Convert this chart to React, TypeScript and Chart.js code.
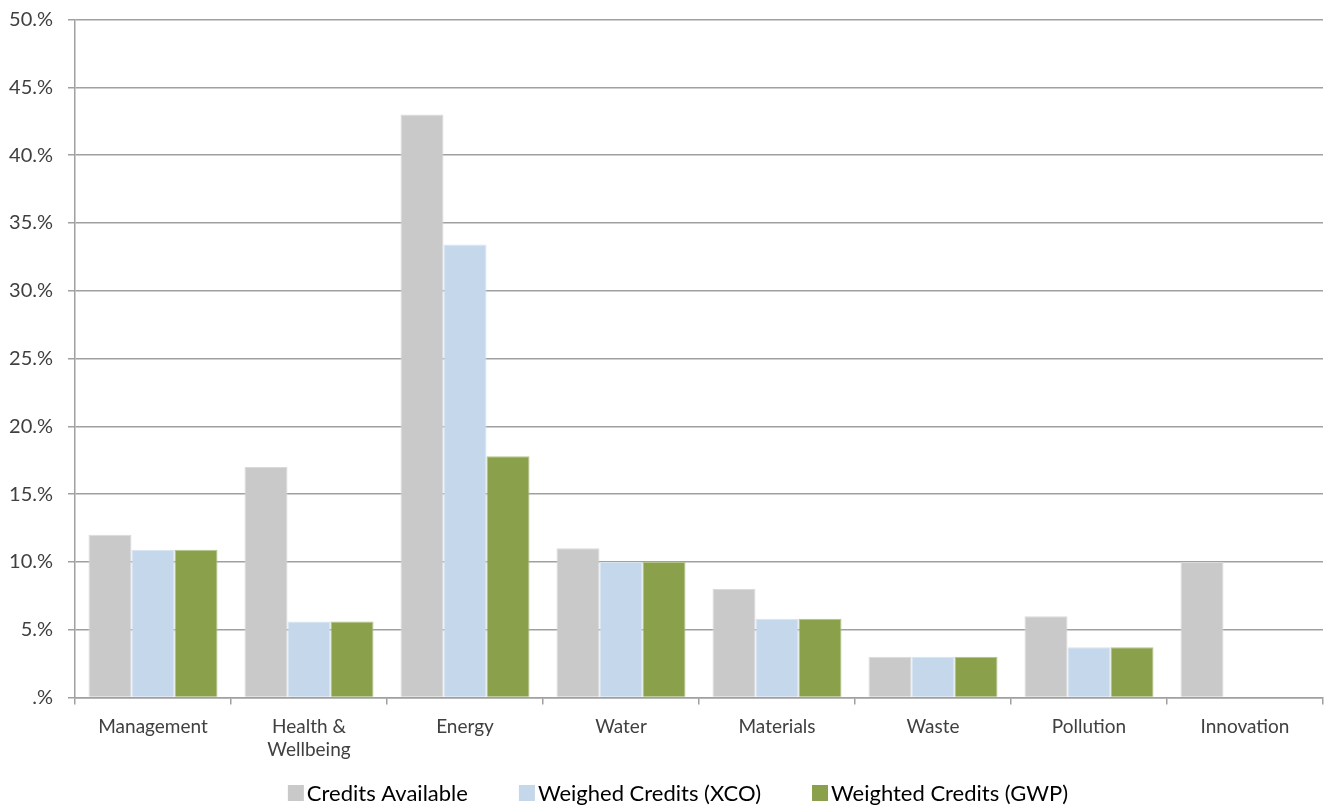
import React, { useEffect, useRef } from "react";
import { Chart, registerables } from "chart.js";

Chart.register(...registerables);

const categories: (string | string[])[] = [
  "Management",
  ["Health &", "Wellbeing"],
  "Energy",
  "Water",
  "Materials",
  "Waste",
  "Pollution",
  "Innovation",
];

const creditsAvailable: (number | null)[] = [12, 17, 43, 11, 8, 3, 6, 10];
const weighedXCO: (number | null)[] = [10.9, 5.6, 33.4, 10, 5.8, 3, 3.7, null];
const weightedGWP: (number | null)[] = [10.9, 5.6, 17.8, 10, 5.8, 3, 3.7, null];

const seriesNames = [
  "Credits Available",
  "Weighed Credits (XCO)",
  "Weighted Credits (GWP)",
];

const FONT = "Lato, 'Open Sans', 'DejaVu Sans', sans-serif";

// Legend row drawn under the axis: square swatch, tight text, wide gaps.
const bottomLegend = {
  id: "bottomLegend",
  afterDraw(chart: any) {
    const ctx = chart.ctx as CanvasRenderingContext2D;
    const box = 16;
    const textGap = 3;
    const itemGap = 51;
    const baseline = 801;
    ctx.save();
    ctx.font = `22px ${FONT}`;
    ctx.textBaseline = "alphabetic";
    ctx.textAlign = "left";
    const items = chart.data.datasets.map((ds: any) => ({
      text: ds.label as string,
      color: ds.backgroundColor as string,
      w: ctx.measureText(ds.label).width,
    }));
    const total =
      items.reduce((s: number, it: any) => s + box + textGap + it.w, 0) +
      itemGap * (items.length - 1);
    let x = 678 - total / 2;
    for (const it of items) {
      ctx.fillStyle = it.color;
      ctx.fillRect(x, baseline - box, box, box);
      x += box + textGap;
      ctx.fillStyle = "#000";
      ctx.fillText(it.text, x, baseline);
      x += it.w + itemGap;
    }
    ctx.restore();
  },
};

export default function App() {
  const canvasRef = useRef<HTMLCanvasElement | null>(null);

  useEffect(() => {
    if (!canvasRef.current) return;
    const chart = new Chart(canvasRef.current, {
      type: "bar",
      data: {
        labels: categories,
        datasets: [
          {
            label: seriesNames[0],
            data: creditsAvailable,
            backgroundColor: "#c9c9c9",
            borderColor: "#dadada",
            borderWidth: 1,
          },
          {
            label: seriesNames[1],
            data: weighedXCO,
            backgroundColor: "#c5d7eb",
            borderColor: "#d6e3f1",
            borderWidth: 1,
          },
          {
            label: seriesNames[2],
            data: weightedGWP,
            backgroundColor: "#8aa04b",
            borderColor: "#b3c48a",
            borderWidth: 1,
          },
        ],
      },
      plugins: [bottomLegend],
      options: {
        animation: false,
        responsive: false,
        maintainAspectRatio: false,
        layout: { padding: { top: 19.5, right: 1, left: 0, bottom: 41.5 } },
        datasets: {
          bar: {
            categoryPercentage: 0.827,
            barPercentage: 1,
          },
        },
        plugins: {
          tooltip: { enabled: false },
          legend: { display: false },
        },
        scales: {
          x: {
            grid: {
              display: true,
              drawOnChartArea: false,
              drawTicks: true,
              tickLength: 7,
              color: "#a0a0a0",
              lineWidth: 1.5,
              offset: true,
            },
            border: { display: true, color: "#a0a0a0", width: 1.5 },
            ticks: {
              color: "#404040",
              font: { family: FONT, size: 19 },
              padding: 11,
              maxRotation: 0,
              autoSkip: false,
            },
            afterFit: (scale: any) => {
              scale.height = 70;
              scale.paddingLeft = 0;
              scale.paddingRight = 0;
            },
          },
          y: {
            min: 0,
            max: 50,
            grid: {
              color: "#a0a0a0",
              lineWidth: 1.5,
              tickLength: 7,
            },
            border: { display: true, color: "#a0a0a0", width: 1.5 },
            ticks: {
              stepSize: 5,
              color: "#404040",
              font: { family: FONT, size: 20 },
              padding: 15,
              callback: (v: any) => `${Number(v) === 0 ? "" : v}.%`,
            },
            afterFit: (scale: any) => {
              scale.width = 75;
              scale.paddingTop = 0;
              scale.paddingBottom = 0;
            },
          },
        },
      },
    });
    return () => chart.destroy();
  }, []);

  return (
    <div style={{ position: "absolute", left: 0, top: 0, width: 1324, height: 809, background: "#fff" }}>
      <canvas ref={canvasRef} width={1324} height={809} style={{ display: "block" }} />
    </div>
  );
}
